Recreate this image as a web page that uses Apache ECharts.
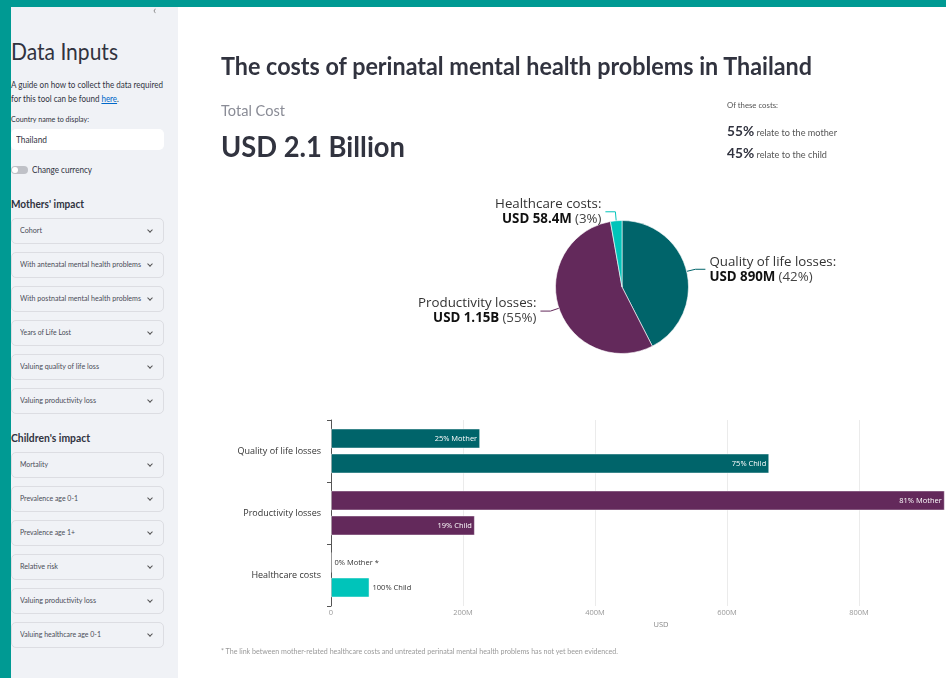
<!DOCTYPE html>
<html>
<head>
<meta charset="utf-8">
<script src="https://cdn.jsdelivr.net/npm/echarts@6/dist/echarts.min.js"></script>
<style>
  html, body { margin: 0; padding: 0; }
  body { width: 946px; height: 678px; overflow: hidden; position: relative; background: #fff;
         font-family: Lato, "Noto Sans", sans-serif; color: #31333F; }
  #topband { position: absolute; left: 0; top: 0; width: 946px; height: 7px; background: #009A93; z-index: 3; }
  #strip { position: absolute; left: 0; top: 0; width: 11px; height: 678px; background: #009A93; z-index: 3; }
  #sidebar { position: absolute; left: 11px; top: 0; width: 167px; height: 678px; background: #F0F2F6; z-index: 2; }
  .t { position: absolute; white-space: nowrap; line-height: 1; transform-origin: 0 50%; z-index: 4; }
  .box { position: absolute; box-sizing: border-box; z-index: 3; }
  .exp { border: 1px solid #dcdde2; border-radius: 5px; }
  .chev { position: absolute; width: 3px; height: 3px; border-right: 1.2px solid #555; border-bottom: 1.2px solid #555;
          transform: rotate(45deg); z-index: 4; }
  #chart { position: absolute; left: 178px; top: 0; width: 830px; height: 678px; z-index: 1; }
  a { color: #0068C9; text-decoration: underline; }
</style>
</head>
<body>
<div id="topband"></div>
<div id="strip"></div>
<div id="sidebar"></div>
<div id="chart"></div>
<script>
// ---------------- Chart data (USD millions) ----------------
const categories = ['Quality of life losses', 'Productivity losses', 'Healthcare costs'];
const motherValues = [226, 930, 0];
const childValues = [664, 218, 58.4];
const motherNotes = ['', '', ' *'];
const categoryColors = ['#00646A', '#63295B', '#00C4BA'];
const xTicks = [0, 200, 400, 600, 800, 1000];

// ---------------- Derived values ----------------
const catTotals = categories.map((c, i) => motherValues[i] + childValues[i]);
const grandTotal = catTotals.reduce((a, b) => a + b, 0);
const motherTotal = motherValues.reduce((a, b) => a + b, 0);
const childTotal = childValues.reduce((a, b) => a + b, 0);
function fmtUSD(v) {
  if (v >= 1000) return (v / 1000).toFixed(2) + 'B';
  if (v >= 100) return Math.round(v) + 'M';
  return v.toFixed(1) + 'M';
}

// ---------------- Page chrome ----------------
function addText(html, x, cy, fs, opts) {
  opts = opts || {};
  const el = document.createElement('div');
  el.className = 't';
  el.innerHTML = html;
  el.style.left = x + 'px';
  el.style.top = (cy - 0.5 * fs) + 'px';
  el.style.fontSize = fs + 'px';
  if (opts.weight) el.style.fontWeight = opts.weight;
  if (opts.color) el.style.color = opts.color;
  if (opts.family) el.style.fontFamily = opts.family;
  if (opts.w) el.dataset.w = opts.w;
  document.body.appendChild(el);
  return el;
}
function addBox(x, y, w, h, cls, style) {
  const el = document.createElement('div');
  el.className = 'box ' + (cls || '');
  el.style.left = x + 'px'; el.style.top = y + 'px';
  el.style.width = w + 'px'; el.style.height = h + 'px';
  Object.assign(el.style, style || {});
  document.body.appendChild(el);
  return el;
}
function addChevron(x, cy) {
  const el = document.createElement('div');
  el.className = 'chev';
  el.style.left = (x - 2) + 'px'; el.style.top = (cy - 3) + 'px';
  document.body.appendChild(el);
}

// sidebar collapse arrow
addText('&lsaquo;', 153, 10, 12, { color: '#888' });
addText('Data Inputs', 11, 51, 24, { w: 107 });
addText('A guide on how to collect the data required', 11, 85, 8.7, { w: 152 });
addText('for this tool can be found <a>here</a>.', 11, 99, 8.7, { w: 108 });
addText('Country name to display:', 11, 120, 7.6, { w: 78 });
addBox(11, 129, 153, 21, '', { background: '#fff', borderRadius: '5px' });
addText('Thailand', 16, 140, 8.7, { w: 31 });
addBox(11, 166, 17, 8, '', { background: '#BFC1C7', borderRadius: '4px' });
addBox(12, 167, 6, 6, '', { background: '#fff', borderRadius: '3px' });
addText('Change currency', 32, 170, 8.7, { w: 60 });
addText("Mothers' impact", 11, 204, 10.5, { weight: 700, w: 73 });
addText("Children's impact", 11, 438, 10.5, { weight: 700, w: 79 });

const motherInputs = [['Cohort', 22], ['With antenatal mental health problems', 121], ['With postnatal mental health problems', 121],
  ['Years of Life Lost', 51], ['Valuing quality of life loss', 79], ['Valuing productivity loss', 76]];
const childInputs = [['Mortality', 28], ['Prevalence age 0-1', 58], ['Prevalence age 1+', 55],
  ['Relative risk', 38], ['Valuing productivity loss', 76], ['Valuing healthcare age 0-1', 81]];
function expanders(list, y0) {
  list.forEach((it, k) => {
    const y = y0 + 34 * k;
    addBox(11, y, 153, 26, 'exp');
    addText(it[0], 20, y + 13, 7.4, { w: it[1], color: '#4a4c57' });
    addChevron(150, y + 13);
  });
}
expanders(motherInputs, 218);
expanders(childInputs, 452);

// main header
addText('The costs of perinatal mental health problems in Thailand', 221, 66, 24, { weight: 700, w: 591 });
addText('Total Cost', 221, 110, 15, { color: '#8A8C96', w: 64 });
addText('USD ' + (grandTotal / 1000).toFixed(1) + ' Billion', 221, 146, 28, { weight: 700, w: 184 });
addText('Of these costs:', 727, 106, 7.6, { color: '#555', w: 51 });
addText('<b style="font-size:13.5px">' + Math.round(motherTotal / grandTotal * 100) + '%</b> <span style="color:#555">relate to the mother</span>', 727, 129, 9, { w: 110 });
addText('<b style="font-size:13.5px">' + Math.round(childTotal / grandTotal * 100) + '%</b> <span style="color:#555">relate to the child</span>', 727, 151, 9, { w: 100 });
addText('* The link between mother-related healthcare costs and untreated perinatal mental health problems has not yet been evidenced.', 221, 651, 7, { color: '#999', w: 397 });

// fit widths
function fitAll() {
  document.querySelectorAll('.t[data-w]').forEach(el => {
    el.style.transform = 'none';
    const w = el.getBoundingClientRect().width;
    if (w > 0) el.style.transform = 'scaleX(' + (parseFloat(el.dataset.w) / w) + ')';
  });
}
fitAll();
if (document.fonts && document.fonts.ready) document.fonts.ready.then(fitAll);

// ---------------- ECharts ----------------
const chart = echarts.init(document.getElementById('chart'), null, { renderer: 'canvas' });
const FONT = '"Open Sans", "Noto Sans", sans-serif';

const pieData = categories.map((c, i) => ({ name: c, value: catTotals[i], itemStyle: { color: categoryColors[i] } }));

function barLabel(i, who, values) {
  const tot = catTotals[i];
  const pct = tot ? Math.round(values[i] / tot * 100) : 0;
  return pct + '% ' + who;
}
const insideLabel = { show: true, position: 'insideRight', color: '#fff', fontSize: 7.5, fontFamily: FONT, distance: 3 };
const outsideLabel = { show: true, position: 'right', color: '#333', fontSize: 7.5, fontFamily: FONT, distance: 3 };

function barData(values, who, notes) {
  return values.map((v, i) => ({
    value: v,
    itemStyle: { color: categoryColors[i] },
    label: Object.assign({}, (i === 2 ? outsideLabel : insideLabel), {
      formatter: barLabel(i, who, values) + (notes ? notes[i] : '')
    })
  }));
}

chart.setOption({
  animation: false,
  textStyle: { fontFamily: FONT },
  grid: { left: 153, top: 420, width: 660, height: 186 },
  xAxis: {
    type: 'value', min: xTicks[0], max: xTicks[xTicks.length - 1], interval: 200,
    name: 'USD', nameLocation: 'middle', nameGap: 15,
    nameTextStyle: { color: '#888', fontSize: 7.5, fontFamily: FONT },
    axisLine: { show: false }, axisTick: { show: false },
    axisLabel: { color: '#999', fontSize: 7.5, margin: 3, fontFamily: FONT,
                 formatter: v => v === 0 ? '0' : v + 'M' },
    splitLine: { show: true, lineStyle: { color: '#EBEBEB', width: 1 } }
  },
  yAxis: {
    type: 'category', data: categories, inverse: true,
    axisLine: { show: true, lineStyle: { color: '#555', width: 1 } },
    axisTick: { show: true, length: 4, lineStyle: { color: '#555' } },
    axisLabel: { color: '#333', fontSize: 9, margin: 10, fontFamily: FONT }
  },
  series: [
    {
      type: 'pie', center: [444, 287], radius: 66.5, startAngle: 90, clockwise: true,
      data: pieData, avoidLabelOverlap: true,
      itemStyle: { borderColor: '#fff', borderWidth: 0.6 },
      label: {
        show: true, position: 'outside', distanceToLabelLine: 4,
        formatter: p => '{n|' + p.name + ':}\n{b|USD ' + fmtUSD(p.value) + '} {p|(' + Math.round(p.value / grandTotal * 100) + '%)}',
        rich: {
          n: { fontSize: 13.3, color: '#333', fontFamily: FONT, lineHeight: 15 },
          b: { fontSize: 13.3, color: '#111', fontWeight: 'bold', fontFamily: FONT, lineHeight: 15 },
          p: { fontSize: 13.3, color: '#444', fontFamily: FONT, lineHeight: 15 }
        }
      },
      labelLine: { show: true, length: 9, length2: 10, lineStyle: { width: 1 } },
      emphasis: { disabled: true }
    },
    {
      name: 'Mother', type: 'bar', barWidth: 20, barGap: '25%',
      data: barData(motherValues, 'Mother', motherNotes),
      itemStyle: { borderColor: 'rgba(255,255,255,0.45)', borderWidth: 1 }
    },
    {
      name: 'Child', type: 'bar', barWidth: 20, barGap: '25%',
      data: barData(childValues, 'Child', null),
      itemStyle: { borderColor: 'rgba(255,255,255,0.45)', borderWidth: 1 }
    }
  ]
});
</script>
</body>
</html>
